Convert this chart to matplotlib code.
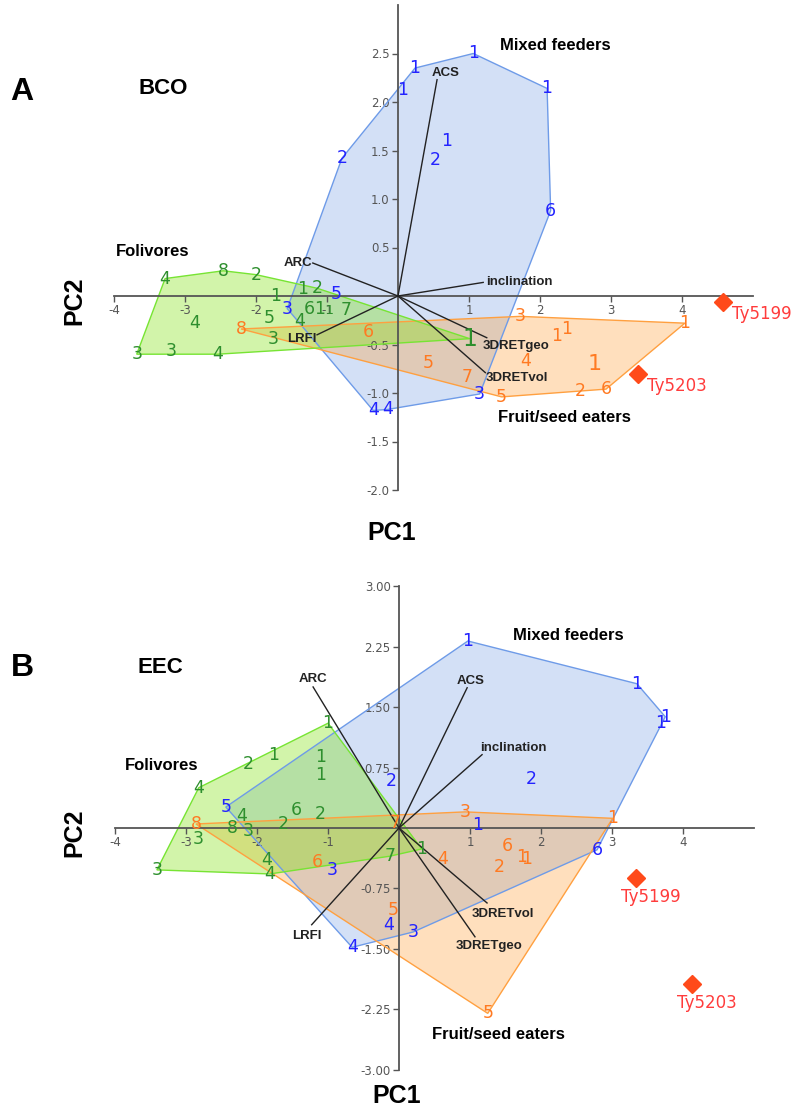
import numpy as np
import matplotlib.pyplot as plt
from matplotlib.patches import Polygon

plt.rcParams['axes.unicode_minus'] = False

# ---------------- panel A : BCO ----------------
a_mix_lab = ['1', '1', '1', '1', '2', '1', '2', '6', '5', '3', '3', '4', '4']
a_mix_x = [0.24, 1.06, 0.06, 2.10, -0.79, 0.69, 0.52, 2.15, -0.87, -1.56, 1.15, -0.35, -0.15]
a_mix_y = [2.35, 2.50, 2.12, 2.14, 1.42, 1.60, 1.40, 0.88, 0.02, -0.13, -1.01, -1.18, -1.17]

a_fol_lab = ['4', '8', '2', '1', '1', '2', '6', '1', '1', '7', '4', '5', '4', '3', '3', '3', '4', '1']
a_fol_x = [-3.28, -2.46, -2.00, -1.72, -1.35, -1.14, -1.25, -1.10, -0.97, -0.73, -2.86, -1.82, -1.39,
           -1.76, -3.68, -3.20, -2.54, 1.01]
a_fol_y = [0.18, 0.26, 0.22, 0.00, 0.07, 0.08, -0.13, -0.13, -0.15, -0.14, -0.28, -0.23, -0.26,
           -0.44, -0.60, -0.57, -0.60, -0.44]

a_fru_lab = ['8', '6', '5', '3', '1', '1', '4', '1', '1', '7', '5', '2', '6']
a_fru_x = [-2.21, -0.42, 0.42, 1.72, 2.24, 2.38, 1.80, 2.77, 4.04, 0.97, 1.46, 2.56, 2.93]
a_fru_y = [-0.34, -0.37, -0.69, -0.21, -0.41, -0.34, -0.67, -0.70, -0.28, -0.84, -1.04, -0.98, -0.96]

a_vec_name = ['ACS', 'ARC', 'inclination', 'LRFI', '3DRETgeo', '3DRETvol']
a_vec_x = [0.55, -1.20, 1.20, -1.14, 1.25, 1.23]
a_vec_y = [2.23, 0.34, 0.14, -0.40, -0.43, -0.79]

a_fos_name = ['Ty5199', 'Ty5203']
a_fos_x = [4.58, 3.38]
a_fos_y = [-0.06, -0.80]

# ---------------- panel B : EEC ----------------
b_mix_lab = ['1', '1', '1', '1', '2', '1', '6', '2', '5', '3', '3', '4', '4']
b_mix_x = [0.97, 3.35, 3.75, 3.68, 1.86, 1.11, 2.79, -0.11, -2.44, -0.94, 0.20, -0.15, -0.66]
b_mix_y = [2.32, 1.79, 1.38, 1.30, 0.61, 0.04, -0.27, 0.58, 0.26, -0.52, -1.29, -1.20, -1.48]

b_fol_lab = ['1', '2', '1', '1', '1', '4', '6', '2', '2', '4', '8', '3', '3', '3', '4', '4', '7', '1']
b_fol_x = [-1.00, -2.13, -1.77, -1.11, -1.11, -2.82, -1.44, -1.11, -1.63, -2.21, -2.34, -2.13, -2.83,
           -3.41, -1.86, -1.82, -0.13, 0.32]
b_fol_y = [1.30, 0.79, 0.91, 0.88, 0.66, 0.50, 0.22, 0.17, 0.05, 0.15, 0.00, -0.04, -0.14,
           -0.52, -0.40, -0.57, -0.35, -0.26]

b_fru_lab = ['8', '7', '3', '1', '6', '4', '6', '1', '1', '2', '5', '5']
b_fru_x = [-2.86, -0.06, 0.93, 3.01, -1.15, 0.62, 1.52, 1.73, 1.80, 1.41, -0.08, 1.25]
b_fru_y = [0.05, 0.06, 0.20, 0.12, -0.42, -0.38, -0.22, -0.36, -0.38, -0.48, -1.02, -2.30]

b_vec_name = ['ARC', 'ACS', 'inclination', 'LRFI', '3DRETvol', '3DRETgeo']
b_vec_x = [-1.21, 0.96, 1.17, -1.23, 1.24, 1.07]
b_vec_y = [1.75, 1.74, 0.91, -1.20, -0.93, -1.35]

b_fos_name = ['Ty5199', 'Ty5203']
b_fos_x = [3.34, 4.13]
b_fos_y = [-0.62, -1.94]

# colours: (fill, edge, text)
BLUE = ('#709be4', '#6e9be8', '#2323ff')
GREEN = ('#7ee20c', '#77e433', '#2e8f2e')
ORANGE = ('#ff9826', '#ffa040', '#ff7a22')

BOLD = dict(family='Liberation Sans', weight='bold')


def hull(xs, ys):
    pts = sorted(set(zip(xs, ys)))

    def cross(o, a, b):
        return (a[0] - o[0]) * (b[1] - o[1]) - (a[1] - o[1]) * (b[0] - o[0])
    lower, upper = [], []
    for p in pts:
        while len(lower) >= 2 and cross(lower[-2], lower[-1], p) <= 0:
            lower.pop()
        lower.append(p)
    for p in reversed(pts):
        while len(upper) >= 2 and cross(upper[-2], upper[-1], p) <= 0:
            upper.pop()
        upper.append(p)
    return lower[:-1] + upper[:-1]


def group(ax, xs, ys, labs, col, alpha, sizes=None):
    sizes = sizes or {}
    ax.add_patch(Polygon(hull(xs, ys), closed=True, facecolor=col[0], alpha=alpha,
                         edgecolor='none', zorder=1))
    ax.add_patch(Polygon(hull(xs, ys), closed=True, facecolor='none', edgecolor=col[1],
                         lw=1.0, zorder=2))
    for i, (x, y, t) in enumerate(zip(xs, ys, labs)):
        ax.text(x, y, t, color=col[2], fontsize=sizes.get(i, 12.5), ha='center', va='center',
                family='DejaVu Sans', zorder=5)


def setup(ax, ylo, yhi, yticks, yfmt):
    for s in ['top', 'right']:
        ax.spines[s].set_visible(False)
    ax.spines['left'].set_position(('data', 0))
    ax.spines['bottom'].set_position(('data', 0))
    ax.spines['left'].set_bounds(ylo, yhi)
    ax.spines['bottom'].set_bounds(-4, 5)
    for s in ['left', 'bottom']:
        ax.spines[s].set_color('#555555')
        ax.spines[s].set_linewidth(1.3)
        ax.spines[s].set_zorder(3)
    xt = [-4, -3, -2, -1, 1, 2, 3, 4]
    ax.set_xticks(xt)
    ax.set_xticklabels([str(v) for v in xt])
    ax.set_yticks(yticks)
    ax.set_yticklabels([yfmt % v for v in yticks])
    ax.tick_params(length=4, width=1, color='#555555', labelcolor='#555555',
                   labelsize=8.5, pad=2)
    ax.patch.set_visible(False)


def vectors(ax, names, xs, ys, place):
    for n, x, y in zip(names, xs, ys):
        ax.plot([0, x], [0, y], color='#222222', lw=1.0, zorder=4)
        ha, va, dx, dy = place[n]
        ax.annotate(n, (x, y), xytext=(dx, dy), textcoords='offset pixels', ha=ha, va=va,
                    fontsize=9.5, color='#222222', zorder=6, **BOLD)


def fossils(ax, names, xs, ys, ha, dx, dy):
    ax.plot(xs, ys, 'D', color='#ff4a1a', ms=9, ls='none', zorder=6)
    for n, x, y in zip(names, xs, ys):
        ax.annotate(n, (x, y), xytext=(dx, dy), textcoords='offset pixels', ha=ha, va='top',
                    fontsize=12, color='#ff3c3c', family='DejaVu Sans', zorder=6)


fig = plt.figure(figsize=(7.96, 11.07), dpi=100)

# ---- A ----
axA = fig.add_axes([0, 1 - 560 / 1107, 1, 560 / 1107])
axA.set_xlim(-398 / 71, (796 - 398) / 71)
axA.set_ylim((296 - 560) / 97, 296 / 97)
setup(axA, -2, 3, [-2.0, -1.5, -1.0, -0.5, 0.5, 1.0, 1.5, 2.0, 2.5], '%.1f')
group(axA, a_mix_x, a_mix_y, a_mix_lab, BLUE, 0.3)
group(axA, a_fru_x, a_fru_y, a_fru_lab, ORANGE, 0.3, {7: 16})
group(axA, a_fol_x, a_fol_y, a_fol_lab, GREEN, 0.35, {8: 9, 17: 17})
vectors(axA, a_vec_name, a_vec_x, a_vec_y, {
    'ACS': ('left', 'bottom', -5, 1),
    'ARC': ('right', 'center', -1, 0),
    'inclination': ('left', 'center', 3, 0),
    'LRFI': ('right', 'center', -1, -4),
    '3DRETgeo': ('left', 'top', -4, -2),
    '3DRETvol': ('left', 'top', 0, 1),
})
fossils(axA, a_fos_name, a_fos_x, a_fos_y, 'left', 9, -3)
axA.text(1.44, 2.58, 'Mixed feeders', fontsize=12, ha='left', va='center', **BOLD)
axA.text(-3.97, 0.46, 'Folivores', fontsize=12, ha='left', va='center', **BOLD)
axA.text(1.41, -1.25, 'Fruit/seed eaters', fontsize=12, ha='left', va='center', **BOLD)
axA.text(-3.66, 2.14, 'BCO', fontsize=16, ha='left', va='center', **BOLD)

# ---- B ----
axB = fig.add_axes([0, 0, 1, 560 / 1107])
axB.set_xlim(-399 / 71, (796 - 399) / 71)
axB.set_ylim((828 - 1107) / 80.6, (828 - 547) / 80.6)
setup(axB, -3, 3, [-3.0, -2.25, -1.5, -0.75, 0.75, 1.5, 2.25, 3.0], '%.2f')
group(axB, b_mix_x, b_mix_y, b_mix_lab, BLUE, 0.3)
group(axB, b_fru_x, b_fru_y, b_fru_lab, ORANGE, 0.3)
group(axB, b_fol_x, b_fol_y, b_fol_lab, GREEN, 0.35)
vectors(axB, b_vec_name, b_vec_x, b_vec_y, {
    'ARC': ('center', 'bottom', 0, 2),
    'ACS': ('center', 'bottom', 3, 1),
    'inclination': ('left', 'bottom', -2, 1),
    'LRFI': ('center', 'top', -5, -5),
    '3DRETvol': ('left', 'top', -15, -5),
    '3DRETgeo': ('left', 'top', -19, -3),
})
fossils(axB, b_fos_name, b_fos_x, b_fos_y, 'center', 15, -10)
axB.text(1.61, 2.39, 'Mixed feeders', fontsize=12, ha='left', va='center', **BOLD)
axB.text(-3.86, 0.78, 'Folivores', fontsize=12, ha='left', va='center', **BOLD)
axB.text(0.46, -2.56, 'Fruit/seed eaters', fontsize=12, ha='left', va='center', **BOLD)
axB.text(-3.68, 1.99, 'EEC', fontsize=16, ha='left', va='center', **BOLD)

# figure-level labels
W, H = 796, 1107
fig.text(22 / W, 1 - 92 / H, 'A', fontsize=23, ha='center', va='center', **BOLD)
fig.text(22 / W, 1 - 668 / H, 'B', fontsize=23, ha='center', va='center', **BOLD)
fig.text(392 / W, 1 - 533 / H, 'PC1', fontsize=18, ha='center', va='center', **BOLD)
fig.text(397 / W, 1 - 1096 / H, 'PC1', fontsize=18, ha='center', va='center', **BOLD)
fig.text(74 / W, 1 - 301 / H, 'PC2', fontsize=18, ha='center', va='center', rotation=90, **BOLD)
fig.text(74 / W, 1 - 833 / H, 'PC2', fontsize=18, ha='center', va='center', rotation=90, **BOLD)

fig.savefig('out.png', dpi=100)
